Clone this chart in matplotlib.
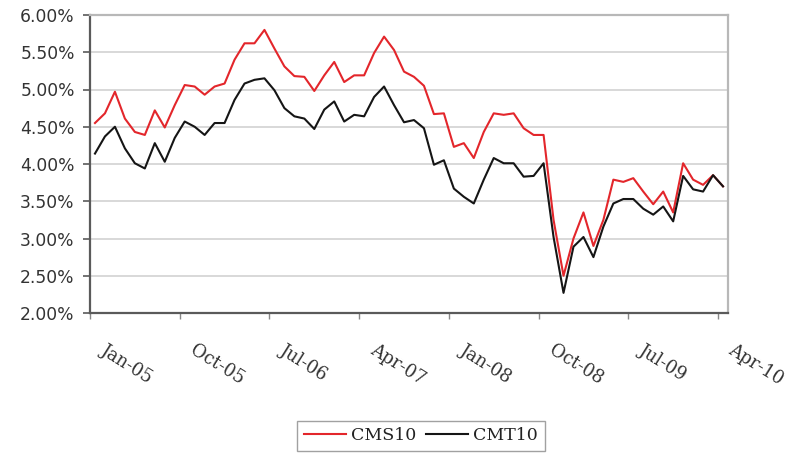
import matplotlib
matplotlib.use("Agg")
import matplotlib.pyplot as plt
import matplotlib.transforms as mtransforms
from matplotlib.ticker import FuncFormatter

# month-end 10y rates, Jan-05 .. Apr-10 (64 months)
CMS10 = [4.55, 4.68, 4.97, 4.61, 4.43, 4.39, 4.72, 4.49, 4.79, 5.06, 5.04, 4.93,
         5.04, 5.08, 5.40, 5.62, 5.62, 5.80, 5.55, 5.31, 5.18, 5.17, 4.98, 5.19,
         5.37, 5.10, 5.19, 5.19, 5.49, 5.71, 5.53, 5.24, 5.17, 5.05, 4.67, 4.68,
         4.23, 4.28, 4.08, 4.43, 4.68, 4.66, 4.68, 4.48, 4.39, 4.39, 3.25, 2.50,
         3.00, 3.35, 2.90, 3.25, 3.79, 3.76, 3.81, 3.63, 3.46, 3.63, 3.35, 4.01,
         3.79, 3.72, 3.85, 3.70]
CMT10 = [4.14, 4.37, 4.50, 4.21, 4.01, 3.94, 4.28, 4.03, 4.35, 4.57, 4.50, 4.39,
         4.55, 4.55, 4.86, 5.08, 5.13, 5.15, 4.99, 4.75, 4.64, 4.61, 4.47, 4.73,
         4.84, 4.57, 4.66, 4.64, 4.90, 5.04, 4.79, 4.56, 4.59, 4.48, 3.99, 4.05,
         3.67, 3.56, 3.47, 3.79, 4.08, 4.01, 4.01, 3.83, 3.84, 4.01, 3.02, 2.27,
         2.89, 3.02, 2.75, 3.16, 3.47, 3.53, 3.53, 3.40, 3.32, 3.43, 3.23, 3.84,
         3.66, 3.63, 3.85, 3.70]
TICK_LABELS = ["Jan-05", "Oct-05", "Jul-06", "Apr-07", "Jan-08", "Oct-08", "Jul-09", "Apr-10"]
TICK_MONTHS = [0, 9, 18, 27, 36, 45, 54, 63]
Y_TICKS = [2.0, 2.5, 3.0, 3.5, 4.0, 4.5, 5.0, 5.5, 6.0]

x = [i + 0.5 for i in range(len(CMS10))]   # each month sits mid-slot

fig = plt.figure(figsize=(7.96, 4.57), dpi=100)
ax = fig.add_axes([90 / 796, 1 - 313 / 457, 638 / 796, 298 / 457])

ax.plot(x, CMS10, color="#e3262b", lw=1.5, label="CMS10", zorder=3)
ax.plot(x, CMT10, color="#151515", lw=1.5, label="CMT10", zorder=3)

ax.set_xlim(0, 64)
ax.set_ylim(2.0, 6.0)
ax.set_yticks(Y_TICKS)
ax.yaxis.set_major_formatter(FuncFormatter(lambda v, _: f"{v:.2f}%"))
ax.grid(axis="y", color="#d6d6d6", lw=1.3, zorder=0)

for side in ("left", "bottom"):
    ax.spines[side].set_color("#5a5a5a")
    ax.spines[side].set_linewidth(1.6)
for side in ("top", "right"):
    ax.spines[side].set_color("#b8b8b8")
    ax.spines[side].set_linewidth(1.6)

ax.tick_params(axis="y", length=5, width=1.2, color="#5a5a5a", pad=6,
               labelsize=12.3, labelcolor="#333333")
for t in ax.get_yticklabels():
    t.set_family("DejaVu Sans")

ax.set_xticks(TICK_MONTHS)
ax.set_xticklabels(TICK_LABELS)
ax.tick_params(axis="x", length=4, width=1.0, color="#888888", pad=16,
               labelsize=12.8, labelcolor="#333333")
offset = mtransforms.ScaledTranslation(17 / 100, 0, fig.dpi_scale_trans)
for t in ax.get_xticklabels():
    t.set_family("DejaVu Serif")
    t.set_rotation(-32)
    t.set_ha("left")
    t.set_va("top")
    t.set_rotation_mode("anchor")
    t.set_transform(t.get_transform() + offset)

leg = fig.legend(loc="center", bbox_to_anchor=(421 / 796, 1 - 436 / 457), ncol=2,
                 frameon=True, fancybox=False, edgecolor="#8a8a8a",
                 prop={"family": "DejaVu Serif", "size": 12.5},
                 handlelength=2.4, handletextpad=0.3, columnspacing=0.6,
                 borderpad=0.4)
leg.get_frame().set_linewidth(1.0)
for txt in leg.get_texts():
    txt.set_color("#222222")

fig.savefig("out.png", dpi=100)
